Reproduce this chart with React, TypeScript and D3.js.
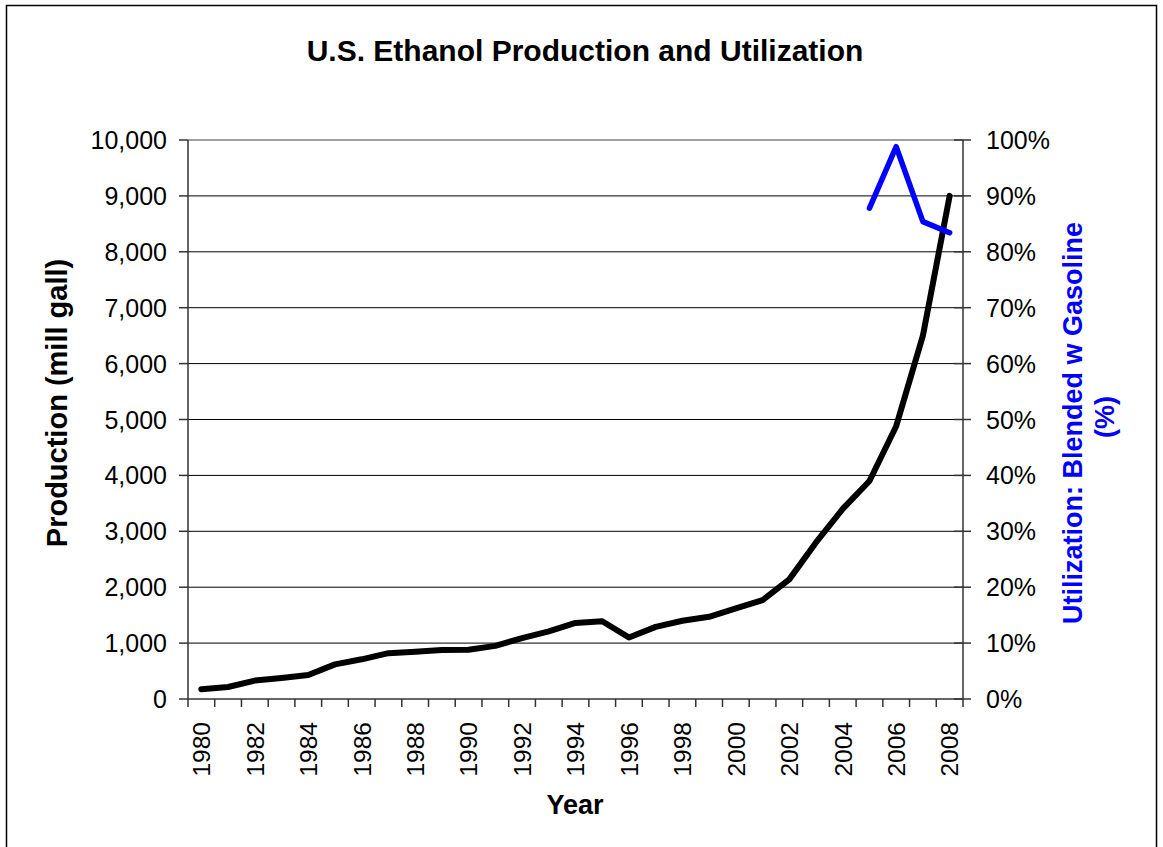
import React from "react";
import * as d3 from "d3";

const years = [
  "1980", "1981", "1982", "1983", "1984", "1985", "1986", "1987", "1988", "1989",
  "1990", "1991", "1992", "1993", "1994", "1995", "1996", "1997", "1998", "1999",
  "2000", "2001", "2002", "2003", "2004", "2005", "2006", "2007", "2008",
];
const production = [
  175, 215, 330, 375, 430, 620, 710, 820, 845, 875,
  880, 950, 1090, 1210, 1360, 1390, 1100, 1290, 1400, 1470,
  1620, 1770, 2140, 2800, 3400, 3900, 4880, 6500, 9000,
];
const utilYears = ["2005", "2006", "2007", "2008"];
const utilization = [0.878, 0.988, 0.854, 0.834];

const leftTicks = [0, 1000, 2000, 3000, 4000, 5000, 6000, 7000, 8000, 9000, 10000];
const rightTicks = [0, 0.1, 0.2, 0.3, 0.4, 0.5, 0.6, 0.7, 0.8, 0.9, 1.0];
const labelYears = ["1980", "1982", "1984", "1986", "1988", "1990", "1992", "1994", "1996", "1998", "2000", "2002", "2004", "2006", "2008"];

const title = "U.S. Ethanol Production and Utilization";
const xTitle = "Year";
const yTitle = "Production (mill gall)";
const y2Title1 = "Utilization: Blended w Gasoline";
const y2Title2 = "(%)";

const FONT = "'Liberation Sans', Arial, Helvetica, sans-serif";

export default function App() {
  const left = 188;
  const right = 963;
  const top = 140;
  const bottom = 699;

  const x = d3.scaleBand<string>().domain(years).range([left, right]).padding(0);
  const bw = x.bandwidth();
  const cx = (yr: string) => (x(yr) as number) + bw / 2;
  const y = d3.scaleLinear().domain([0, 10000]).range([bottom, top]);
  const y2 = d3.scaleLinear().domain([0, 1]).range([bottom, top]);

  const prodLine = d3
    .line<number>()
    .x((_, i) => cx(years[i]))
    .y((d) => y(d))(production) as string;
  const utilLine = d3
    .line<number>()
    .x((_, i) => cx(utilYears[i]))
    .y((d) => y2(d))(utilization) as string;

  const fmt = d3.format(",");
  const pct = d3.format(".0%");
  const boundaries = [...years.map((yr) => x(yr) as number), right];

  return (
    <svg
      width={1163}
      height={847}
      style={{ position: "absolute", left: 0, top: 0, display: "block", background: "#fff" }}
      fontFamily={FONT}
    >
      <rect x={0} y={0} width={1163} height={847} fill="#fff" />
      <rect x={6.5} y={5.5} width={1150} height={860} fill="none" stroke="#000" strokeWidth={1.5} />

      <text x={585} y={61} textAnchor="middle" fontSize={30} fontWeight="bold" fill="#000">
        {title}
      </text>

      {/* gridlines */}
      {leftTicks.map((t) =>
        t === 0 ? null : (
          <line
            key={"g" + t}
            x1={left}
            x2={right}
            y1={y(t)}
            y2={y(t)}
            stroke={t === 10000 ? "#808080" : "#000"}
            strokeWidth={t === 10000 ? 1.5 : 1}
          />
        )
      )}

      {/* left axis */}
      <line x1={left} x2={left} y1={top} y2={bottom} stroke="#333" strokeWidth={1.5} />
      {leftTicks.map((t) => (
        <g key={"l" + t}>
          <line x1={left - 9} x2={left} y1={y(t)} y2={y(t)} stroke="#333" strokeWidth={1.5} />
          <text x={167} y={y(t)} dy="0.36em" textAnchor="end" fontSize={25} fill="#000">
            {fmt(t)}
          </text>
        </g>
      ))}

      {/* right axis */}
      <line x1={right} x2={right} y1={top} y2={bottom} stroke="#333" strokeWidth={1.5} />
      {rightTicks.map((t) => (
        <g key={"r" + t}>
          <line x1={right - 9} x2={right + 8} y1={y2(t)} y2={y2(t)} stroke="#333" strokeWidth={1.5} />
          <text x={986} y={y2(t)} dy="0.36em" textAnchor="start" fontSize={25} fill="#000">
            {pct(t)}
          </text>
        </g>
      ))}

      {/* x axis */}
      <line x1={left} x2={right} y1={bottom} y2={bottom} stroke="#333" strokeWidth={1.5} />
      {boundaries.map((b, i) => (
        <line key={"xt" + i} x1={b} x2={b} y1={bottom} y2={bottom + 8} stroke="#333" strokeWidth={1.5} />
      ))}
      {labelYears.map((yr) => (
        <text
          key={"xl" + yr}
          transform={`translate(${cx(yr)},722) rotate(-90)`}
          dy="0.36em"
          textAnchor="end"
          fontSize={24.5}
          fill="#000"
        >
          {yr}
        </text>
      ))}

      <text x={575} y={814} textAnchor="middle" fontSize={27} fontWeight="bold" fill="#000">
        {xTitle}
      </text>
      <text transform="translate(67,403) rotate(-90)" textAnchor="middle" fontSize={29} fontWeight="bold" fill="#000">
        {yTitle}
      </text>
      <text transform="translate(1082,423) rotate(-90)" textAnchor="middle" fontSize={27} fontWeight="bold" fill="#0000FF">
        {y2Title1}
      </text>
      <text transform="translate(1114,417) rotate(-90)" textAnchor="middle" fontSize={27} fontWeight="bold" fill="#0000FF">
        {y2Title2}
      </text>

      <path d={prodLine} fill="none" stroke="#000" strokeWidth={6} strokeLinejoin="round" strokeLinecap="round" />
      <path d={utilLine} fill="none" stroke="#0000FF" strokeWidth={5.5} strokeLinejoin="round" strokeLinecap="round" />
    </svg>
  );
}
